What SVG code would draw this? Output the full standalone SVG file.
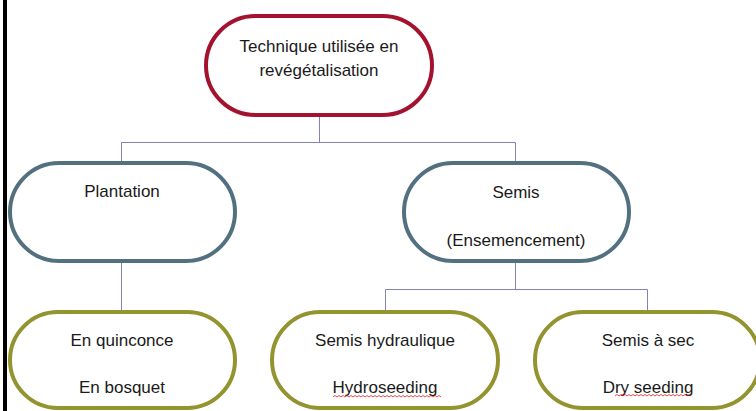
<svg xmlns="http://www.w3.org/2000/svg" width="756" height="411" viewBox="0 0 756 411">
<style>
.n{fill:#fff;stroke-width:4}
.top{stroke:#A3122E}
.mid{stroke:#52707F}
.bot{stroke:#939430}
.t{font-family:"Liberation Sans",Arial,sans-serif;font-size:17px;fill:#1a1a1a;text-anchor:middle}
.c{fill:none;stroke:#8383B3;stroke-width:1}
.sq{fill:none;stroke:#E02020;stroke-width:0.8}
</style>
<rect x="0" y="0" width="756" height="411" fill="#fff"/>
<rect x="3" y="0" width="4" height="411" fill="#000"/>
<g id="connectors">
<path class="c" d="M319.5 115V142.5M121.5 142.5H515.5M121.5 142.5V163M515.5 142.5V163M121.5 261V312M515.5 261V289.5M385.5 289.5H647.5M385.5 289.5V312M647.5 289.5V312"/>
</g>
<g id="node-root">
<rect class="n top" x="206" y="16" width="226" height="99" rx="49.5"/>
<text class="t" x="319" y="52">Technique utilisée en</text>
<text class="t" x="319" y="76">revégétalisation</text>
</g>
<g id="node-plantation">
<rect class="n mid" x="10" y="163" width="225" height="98" rx="49"/>
<text class="t" x="122" y="197">Plantation</text>
</g>
<g id="node-semis">
<rect class="n mid" x="404" y="163" width="225" height="98" rx="49"/>
<text class="t" x="516" y="198">Semis</text>
<text class="t" x="516" y="246">(Ensemencement)</text>
</g>
<g id="node-quinconce">
<rect class="n bot" x="10" y="312" width="225" height="96" rx="48"/>
<text class="t" x="122" y="346">En quinconce</text>
<text class="t" x="122" y="393">En bosquet</text>
</g>
<g id="node-hydraulique">
<rect class="n bot" x="272" y="312" width="226" height="96" rx="48"/>
<text class="t" x="385" y="346">Semis hydraulique</text>
<text class="t" x="385" y="393">Hydroseeding</text>
<path class="sq" d="M333 397l2 -1.5 2 1.5 2 -1.5 2 1.5 2 -1.5 2 1.5 2 -1.5 2 1.5 2 -1.5 2 1.5 2 -1.5 2 1.5 2 -1.5 2 1.5 2 -1.5 2 1.5 2 -1.5 2 1.5 2 -1.5 2 1.5 2 -1.5 2 1.5 2 -1.5 2 1.5 2 -1.5 2 1.5 2 -1.5 2 1.5 2 -1.5 2 1.5 2 -1.5 2 1.5 2 -1.5 2 1.5 2 -1.5 2 1.5 2 -1.5 2 1.5 2 -1.5 2 1.5 2 -1.5 2 1.5 2 -1.5 2 1.5 2 -1.5 2 1.5 2 -1.5 2 1.5 2 -1.5 2 1.5 2 -1.5 2 1.5 2 -1.5 2 1.5"/>
</g>
<g id="node-sec">
<rect class="n bot" x="535" y="312" width="225" height="96" rx="48"/>
<text class="t" x="648" y="346">Semis à sec</text>
<text class="t" x="648" y="393">Dry seeding</text>
<path class="sq" d="M615 396l2 -1.5 2 1.5 2 -1.5 2 1.5 2 -1.5 2 1.5 2 -1.5 2 1.5 2 -1.5 2 1.5 2 -1.5 2 1.5 2 -1.5 2 1.5 2 -1.5 2 1.5 2 -1.5 2 1.5 2 -1.5 2 1.5 2 -1.5 2 1.5 2 -1.5 2 1.5 2 -1.5 2 1.5 2 -1.5 2 1.5 2 -1.5 2 1.5 2 -1.5 2 1.5 2 -1.5 2 1.5 2 -1.5 2 1.5 2 -1.5 2 1.5"/>
</g>
</svg>
